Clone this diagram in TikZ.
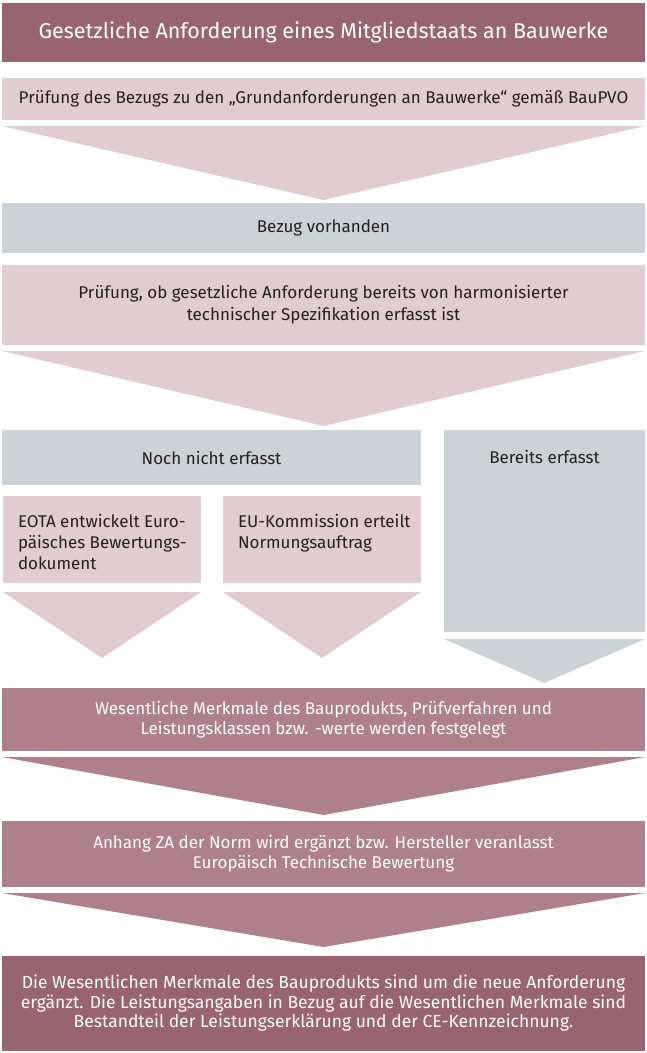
\documentclass[tikz,border=0pt]{standalone}
\usepackage{fontspec}
\setmainfont{Fira Sans}

\definecolor{mauvedunkel}{HTML}{98646F}
\definecolor{mauvemittel}{HTML}{AD808B}
\definecolor{rosahell}{HTML}{E0CCD1}
\definecolor{grauhell}{HTML}{CCD3D6}
\definecolor{textdunkel}{HTML}{231F20}

\tikzset{
    feld/.style={rectangle, inner sep=0pt, outer sep=0pt, align=center, text=textdunkel, font=\fontsize{17}{22}\selectfont},
    dunkelfeld/.style={feld, fill=mauvedunkel, text=white},
    mittelfeld/.style={feld, fill=mauvemittel, text=white, font=\fontsize{17}{20}\selectfont},
    rosafeld/.style={feld, fill=rosahell},
    graufeld/.style={feld, fill=grauhell}
}

\begin{document}
\begin{tikzpicture}[x=1pt, y=-1pt]
    \useasboundingbox (0,0) rectangle (646,1053);

    % Anforderung und Pruefung
    \node[dunkelfeld, minimum width=643pt, minimum height=59pt, font=\fontsize{21.5}{22}\selectfont] (anforderung) at (323.5,32.5) {Gesetzliche Anforderung eines Mitgliedstaats an Bauwerke};
    \node[rosafeld, minimum width=643pt, minimum height=42pt] (bezugpruefung) at (323.5,99) {Prüfung des Bezugs zu den „Grundanforderungen an Bauwerke“ gemäß BauPVO};
    \fill[rosahell] ([yshift=-6pt]bezugpruefung.south west) -- ([yshift=-6pt]bezugpruefung.south east) -- ([yshift=-80pt]bezugpruefung.south) -- cycle;

    \node[graufeld, minimum width=643pt, minimum height=50pt] (bezug) at (323.5,228) {Bezug vorhanden};
    \node[rosafeld, minimum width=643pt, minimum height=80pt] (erfassung) at (323.5,305) {Prüfung, ob gesetzliche Anforderung bereits von harmonisierter\\technischer Spezifikation erfasst ist};
    \fill[rosahell] ([yshift=-6pt]erfassung.south west) -- ([yshift=-6pt]erfassung.south east) -- ([yshift=-81pt]erfassung.south) -- cycle;

    % Noch nicht erfasst
    \node[graufeld, minimum width=419pt, minimum height=55pt] (nochnicht) at (211.5,457.5) {Noch nicht erfasst};
    \node[rosafeld, minimum width=198pt, minimum height=87pt] (eota) at (102,539.5) {};
    \node[feld, anchor=north west, align=left, font=\fontsize{17}{21}\selectfont] (eotatext) at ([xshift=15pt, yshift=-18pt]eota.north west) {EOTA entwickelt Euro-\\päisches Bewertungs-\\dokument};
    \node[rosafeld, minimum width=198pt, minimum height=87pt] (kommission) at (322,539.5) {};
    \node[feld, anchor=north west, align=left, font=\fontsize{17}{21}\selectfont] (kommissiontext) at ([xshift=15pt, yshift=-18pt]kommission.north west) {EU-Kommission erteilt\\Normungsauftrag};
    \fill[rosahell] ([yshift=-9pt]eota.south west) -- ([yshift=-9pt]eota.south east) -- ([yshift=-75pt]eota.south) -- cycle;
    \fill[rosahell] ([yshift=-9pt]kommission.south west) -- ([yshift=-9pt]kommission.south east) -- ([yshift=-75pt]kommission.south) -- cycle;

    % Bereits erfasst
    \node[graufeld, minimum width=201pt, minimum height=202pt] (bereits) at (544.5,531) {};
    \node[feld, anchor=north] (bereitstext) at ([yshift=-20pt]bereits.north) {Bereits erfasst};
    \fill[grauhell] ([yshift=-7pt]bereits.south west) -- ([yshift=-7pt]bereits.south east) -- ([yshift=-51pt]bereits.south) -- cycle;

    % Festlegung und Ergebnis
    \node[mittelfeld, minimum width=643pt, minimum height=63pt] (merkmale) at (323.5,719.5) {Wesentliche Merkmale des Bauprodukts, Prüfverfahren und\\Leistungsklassen bzw. -werte werden festgelegt};
    \fill[mauvemittel] ([yshift=-6pt]merkmale.south west) -- ([yshift=-6pt]merkmale.south east) -- ([yshift=-64pt]merkmale.south) -- cycle;

    \node[mittelfeld, minimum width=643pt, minimum height=66pt] (anhang) at (323.5,854) {Anhang ZA der Norm wird ergänzt bzw. Hersteller veranlasst\\Europäisch Technische Bewertung};
    \fill[mauvemittel] ([yshift=-6pt]anhang.south west) -- ([yshift=-6pt]anhang.south east) -- ([yshift=-60pt]anhang.south) -- cycle;

    \node[dunkelfeld, minimum width=643pt, minimum height=95pt, font=\fontsize{17.5}{19.5}\selectfont] (ergebnis) at (323.5,1003.5) {Die Wesentlichen Merkmale des Bauprodukts sind um die neue Anforderung\\ergänzt. Die Leistungsangaben in Bezug auf die Wesentlichen Merkmale sind\\Bestandteil der Leistungserklärung und der CE-Kennzeichnung.};
\end{tikzpicture}
\end{document}
